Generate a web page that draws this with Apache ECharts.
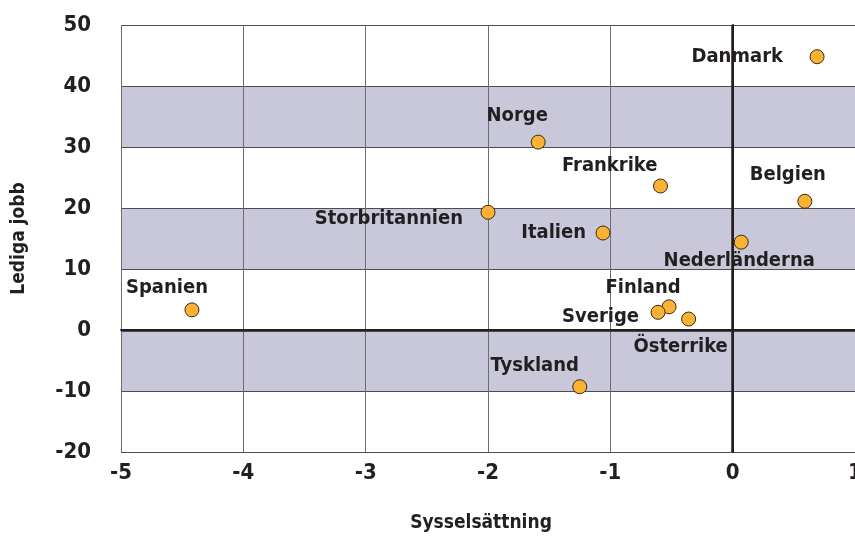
<!DOCTYPE html>
<html><head><meta charset="utf-8">
<script src="https://cdn.jsdelivr.net/npm/echarts@6/dist/echarts.min.js"></script>
<style>html,body{margin:0;padding:0;background:#fff}#c{width:855px;height:536px}</style>
</head><body><div id="c"></div>
<script>
const countries = ['Danmark','Norge','Frankrike','Belgien','Storbritannien','Italien','Nederländerna','Spanien','Finland','Sverige','Österrike','Tyskland'];
const employment = [0.69, -1.59, -0.59, 0.59, -2.0, -1.06, 0.07, -4.42, -0.52, -0.61, -0.36, -1.25];
const vacancies = [44.8, 30.8, 23.6, 21.1, 19.3, 15.9, 14.4, 3.3, 3.8, 2.9, 1.8, -9.3];
const xTicks = [-5, -4, -3, -2, -1, 0, 1];
const yTicks = [-20, -10, 0, 10, 20, 30, 40, 50];

// label placement (offset from point in px, alignment)
const labelPlace = {
  'Danmark': [-34, 0, 'right'],
  'Norge': [-21, -26, 'center'],
  'Frankrike': [-3, -20, 'right'],
  'Belgien': [-17, -26, 'center'],
  'Storbritannien': [-25, 7, 'right'],
  'Italien': [-17, 0, 'right'],
  'Nederländerna': [-2, 19, 'center'],
  'Spanien': [-25, -22, 'center'],
  'Finland': [-26, -19, 'center'],
  'Sverige': [-19, 4, 'right'],
  'Österrike': [-8, 28, 'center'],
  'Tyskland': [-45, -21, 'center']
};
const FONT = "'DejaVu Sans Condensed', 'Liberation Sans Narrow', sans-serif";

const data = countries.map((n, i) => {
  const p = labelPlace[n];
  return {
    name: n,
    value: [employment[i], vacancies[i]],
    label: { show: true, formatter: n, position: 'inside', offset: [p[0], p[1]], align: p[2], verticalAlign: 'middle' }
  };
});

const chart = echarts.init(document.getElementById('c'), null, {renderer: 'canvas'});
chart.setOption({
  animation: false,
  grid: { left: 121, right: 0, top: 25, bottom: 84, containLabel: false, outerBoundsMode: 'none' },
  xAxis: {
    type: 'value', min: xTicks[0], max: xTicks[xTicks.length - 1], interval: 1,
    name: 'Sysselsättning', nameLocation: 'middle', nameGap: 62,
    nameTextStyle: { fontFamily: FONT, fontWeight: 'bold', fontSize: 19, color: '#231f20', padding: [0, 14, 0, 0] },
    axisLine: { show: true, lineStyle: { color: '#231f20', width: 2 } },
    axisTick: { show: false },
    axisLabel: { margin: 10, fontFamily: FONT, fontWeight: 'bold', fontSize: 22, color: '#231f20' },
    splitLine: { show: true, lineStyle: { color: '#6d6d6d', width: 1 } }
  },
  yAxis: {
    type: 'value', min: yTicks[0], max: yTicks[yTicks.length - 1], interval: 10,
    name: 'Lediga jobb', nameLocation: 'middle', nameGap: 92, nameRotate: 90,
    nameTextStyle: { fontFamily: FONT, fontWeight: 'bold', fontSize: 19, color: '#231f20' },
    axisLine: { show: true, lineStyle: { color: '#231f20', width: 2 } },
    axisTick: { show: false },
    axisLabel: { margin: 30, fontFamily: FONT, fontWeight: 'bold', fontSize: 22, color: '#231f20' },
    splitLine: { show: true, lineStyle: { color: '#4d4d4d', width: 1 } },
    splitArea: { show: true, areaStyle: { color: ['#ffffff', '#c9c8da'] } }
  },
  series: [{
    type: 'scatter',
    data: data,
    symbol: 'circle', symbolSize: 14,
    itemStyle: { color: '#f9b233', borderColor: '#3a2a10', borderWidth: 1, opacity: 1 },
    label: { fontFamily: FONT, fontWeight: 'bold', fontSize: 20, color: '#231f20' },
    markLine: {
      silent: true, symbol: 'none', label: { show: false },
      lineStyle: { color: '#231f20', width: 2.5, type: 'solid' },
      data: [{ xAxis: 0 }, { yAxis: 0 }],
      z: 1
    },
    z: 5
  }]
});
</script></body></html>
